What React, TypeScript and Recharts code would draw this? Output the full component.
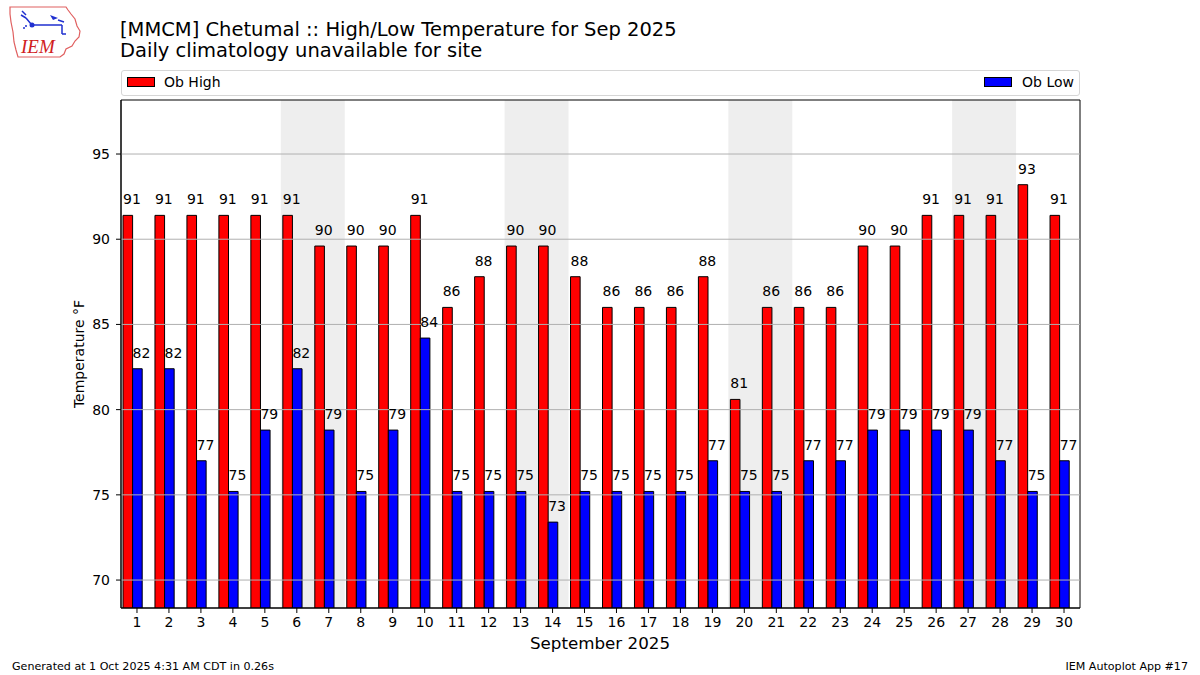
import React from 'react';
import {
  BarChart,
  Bar,
  XAxis,
  YAxis,
  ReferenceArea,
  ReferenceLine,
  LabelList,
} from 'recharts';

const days: number[] = Array.from({ length: 30 }, (_, i) => i + 1);
const obHigh: number[] = [
  91.4, 91.4, 91.4, 91.4, 91.4, 91.4, 89.6, 89.6, 89.6, 91.4,
  86, 87.8, 89.6, 89.6, 87.8, 86, 86, 86, 87.8, 80.6,
  86, 86, 86, 89.6, 89.6, 91.4, 91.4, 91.4, 93.2, 91.4,
];
const obLow: number[] = [
  82.4, 82.4, 77, 75.2, 78.8, 82.4, 78.8, 75.2, 78.8, 84.2,
  75.2, 75.2, 75.2, 73.4, 75.2, 75.2, 75.2, 75.2, 77, 75.2,
  75.2, 77, 77, 78.8, 78.8, 78.8, 78.8, 77, 75.2, 77,
];
const weekends: [number, number][] = [
  [6, 7],
  [13, 14],
  [20, 21],
  [27, 28],
];
const yTicks: number[] = [70, 75, 80, 85, 90, 95];
const yDomain: [number, number] = [68.36, 98.17];

const data = days.map((d, i) => ({ day: d, high: obHigh[i], low: obLow[i] }));

const FONT = "'DejaVu Sans', Verdana, sans-serif";

const BarValueLabel = (props: any) => {
  const { x, y, value } = props;
  if (value == null) return null;
  return (
    <text x={Number(x)} y={Number(y) - 11} fontSize={14} fontFamily={FONT} fill="#000" textAnchor="start">
      {Math.round(Number(value))}
    </text>
  );
};

const Logo = () => (
  <svg width={84} height={62} style={{ position: 'absolute', left: 3, top: 1 }}>
    <path
      d="M7,6 L63,6 L65,9 L68,13 L72,18 L74,25 L77,30 L76,36 L72,40 L69,45 L63,48 L61,53 L57,56 L15,56 L13,49 L11,41 L10,31 L8,21 L7,13 Z"
      fill="none"
      stroke="#e06060"
      strokeWidth={1.2}
    />
    <path d="M19,10 L23,14 M18,14 L23,17 M23,17 L28,23" stroke="#2030d0" strokeWidth={1.5} fill="none" />
    <circle cx={29} cy={24} r={2.5} fill="#2030d0" />
    <path d="M29,24 L59,24 M59,24 L59,33 M59,33 L63,33" stroke="#2030d0" strokeWidth={1.5} fill="none" />
    <path d="M47,14 L55,17 L50,19 Z" fill="#2030d0" />
    <path d="M55,19 L61,21" stroke="#2030d0" strokeWidth={1.5} />
    <circle cx={21} cy={27} r={1} fill="#2030d0" />
    <circle cx={23} cy={25} r={1} fill="#2030d0" />
    <text x={18} y={52} fontSize={19} fontFamily="'Liberation Serif', serif" fontStyle="italic" fill="#d02020">
      IEM
    </text>
  </svg>
);

export default function App() {
  return (
    <div
      style={{
        position: 'absolute',
        left: 0,
        top: 0,
        width: 1200,
        height: 675,
        background: '#fff',
        fontFamily: FONT,
        overflow: 'hidden',
      }}
    >
      <Logo />

      {/* Legend */}
      <div
        style={{
          position: 'absolute',
          left: 121,
          top: 70,
          width: 957,
          height: 24,
          border: '1px solid #d6d6d6',
          borderRadius: 3,
          fontSize: 14,
          color: '#000',
        }}
      >
        <div style={{ position: 'absolute', left: 5, top: 6, width: 26, height: 8, background: '#ff0000', border: '1px solid #000' }} />
        <div style={{ position: 'absolute', left: 42, top: 3, lineHeight: '17px' }}>Ob High</div>
        <div style={{ position: 'absolute', left: 862, top: 6, width: 26, height: 8, background: '#0000ff', border: '1px solid #000' }} />
        <div style={{ position: 'absolute', right: 5, top: 3, lineHeight: '17px' }}>Ob Low</div>
      </div>

      <div style={{ position: 'absolute', left: 0, top: 0 }}>
        <BarChart
          width={1200}
          height={675}
          data={data}
          margin={{ top: 100, right: 120, bottom: 37, left: 0 }}
          barGap={0}
          barSize={9.6}
        >
          {weekends.map(([a, b]) => (
            <ReferenceArea
              key={`we-${a}`}
              x1={a}
              x2={b}
              y1={yDomain[0]}
              y2={yDomain[1]}
              fill="#eeeeee"
              fillOpacity={1}
              stroke="none"
              ifOverflow="visible"
            />
          ))}
          <XAxis
            dataKey="day"
            type="category"
            height={30}
            tickSize={5}
            tickMargin={4}
            tick={{ fontSize: 14, fill: '#000', fontFamily: FONT }}
            axisLine={{ stroke: '#000', strokeWidth: 1 }}
            tickLine={{ stroke: '#000', strokeWidth: 1 }}
            interval={0}
          />
          <YAxis
            type="number"
            domain={yDomain}
            allowDataOverflow
            ticks={yTicks}
            width={121}
            tickSize={5}
            tickMargin={6}
            tick={{ fontSize: 14, fill: '#000', fontFamily: FONT }}
            axisLine={{ stroke: '#000', strokeWidth: 1 }}
            tickLine={{ stroke: '#000', strokeWidth: 1 }}
          />
          <Bar dataKey="high" fill="#ff0000" stroke="#000" strokeWidth={1} isAnimationActive={false}>
            <LabelList dataKey="high" content={BarValueLabel} />
          </Bar>
          <Bar dataKey="low" fill="#0000ff" stroke="#000" strokeWidth={1} isAnimationActive={false}>
            <LabelList dataKey="low" content={BarValueLabel} />
          </Bar>
          <Bar dataKey={() => null} fill="transparent" stroke="none" isAnimationActive={false} />
          {yTicks.map((t) => (
            <ReferenceLine key={`g-${t}`} y={t} stroke="#b0b0b0" strokeWidth={1} ifOverflow="visible" />
          ))}
          <ReferenceArea
            x1={1}
            x2={30}
            y1={yDomain[0]}
            y2={yDomain[1]}
            fill="none"
            stroke="#000"
            strokeWidth={1}
            ifOverflow="visible"
          />
        </BarChart>
      </div>

      <svg width={1200} height={675} style={{ position: 'absolute', left: 0, top: 0, pointerEvents: 'none' }}>
        <text x={120} y={36} fontSize={19.5} fontFamily={FONT} fill="#000">
          [MMCM] Chetumal :: High/Low Temperature for Sep 2025
        </text>
        <text x={120} y={57} fontSize={19.5} fontFamily={FONT} fill="#000">
          Daily climatology unavailable for site
        </text>
        <text x={84} y={354} transform="rotate(-90 84 354)" textAnchor="middle" fontSize={14} fontFamily={FONT} fill="#000">
          Temperature °F
        </text>
        <text x={600} y={649} textAnchor="middle" fontSize={16.7} fontFamily={FONT} fill="#000">
          September 2025
        </text>
        <text x={12} y={670} fontSize={11.1} fontFamily={FONT} fill="#000">
          Generated at 1 Oct 2025 4:31 AM CDT in 0.26s
        </text>
        <text x={1188} y={670} textAnchor="end" fontSize={11.1} fontFamily={FONT} fill="#000">
          IEM Autoplot App #17
        </text>
      </svg>
    </div>
  );
}
